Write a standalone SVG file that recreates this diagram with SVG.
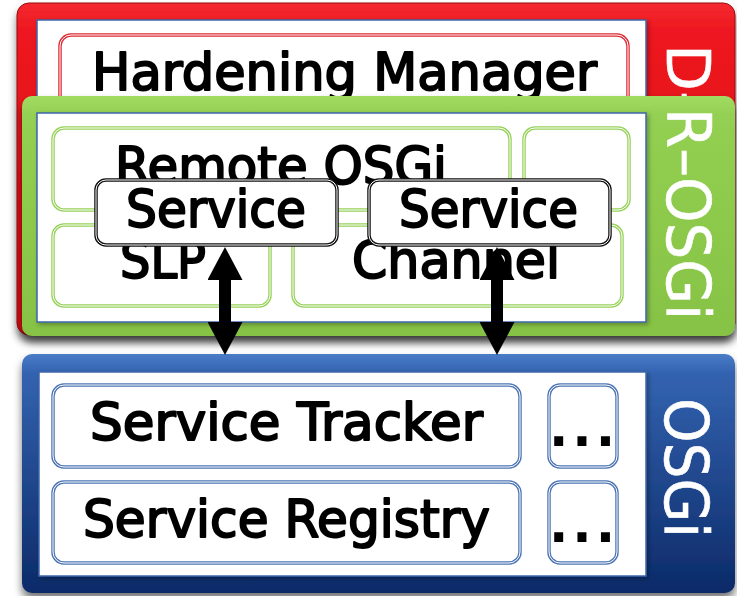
<svg xmlns="http://www.w3.org/2000/svg" width="737" height="596" viewBox="0 0 737 596">
  <style>
    .lbl { font-family: "DejaVu Sans", "Liberation Sans", sans-serif; font-size: 51px; fill: #000; stroke: #000; stroke-width: 2px; stroke-linejoin: round; }
    .dots { font-family: "DejaVu Sans", "Liberation Sans", sans-serif; font-size: 51px; font-weight: bold; fill: #000; }
    .side { font-family: "DejaVu Sans", "Liberation Sans", sans-serif; font-size: 61px; fill: #fff; stroke: #fff; stroke-width: 0.6px; }
    .inner { fill: #fff; stroke: #3d66ab; stroke-width: 1.5; }
    .box-red { fill: #fff; stroke: #de2a33; stroke-width: 3.5; }
    .box-green { fill: #fff; stroke: #96d25a; stroke-width: 3.5; }
    .box-blue { fill: #fff; stroke: #4c74b4; stroke-width: 3.5; }
    .box-black { fill: #fff; stroke: #111; stroke-width: 3.5; }
    .gap { fill: none; stroke: #fff; stroke-width: 1; }
    .arrow { stroke: #000; stroke-width: 12; fill: none; }
  </style>
  <defs>
    <linearGradient id="gRed" x1="0" y1="0" x2="0" y2="1">
      <stop offset="0" stop-color="#f42a30"/>
      <stop offset="0.08" stop-color="#ee1820"/>
      <stop offset="1" stop-color="#d40a12"/>
    </linearGradient>
    <linearGradient id="gGreen" x1="0" y1="0" x2="0" y2="1">
      <stop offset="0" stop-color="#a2dc62"/>
      <stop offset="0.08" stop-color="#93d052"/>
      <stop offset="1" stop-color="#86c244"/>
    </linearGradient>
    <linearGradient id="gBlue" x1="0" y1="0" x2="0" y2="1">
      <stop offset="0" stop-color="#4a7cc8"/>
      <stop offset="0.08" stop-color="#3363b0"/>
      <stop offset="1" stop-color="#0c2a68"/>
    </linearGradient>
    <filter id="drop" x="-5%" y="-5%" width="110%" height="120%">
      <feDropShadow dx="0" dy="6" stdDeviation="4" flood-color="#000" flood-opacity="0.55"/>
    </filter>
    <filter id="soft" x="-5%" y="-5%" width="110%" height="110%">
      <feDropShadow dx="2" dy="2" stdDeviation="2" flood-color="#000" flood-opacity="0.3"/>
    </filter>
    <marker id="head" viewBox="0 0 33 35" refX="0" refY="17.5" markerWidth="33" markerHeight="35" markerUnits="userSpaceOnUse" orient="auto-start-reverse">
      <path d="M0,0 L33,17.5 L0,35 Z" fill="#000"/>
    </marker>
  </defs>

  <rect width="737" height="596" fill="#fff"/>

  <!-- D-R-OSGi hardening layer -->
  <g id="layer-dr">
    <rect x="17" y="3" width="718" height="332" rx="12" fill="url(#gRed)" filter="url(#drop)"/>
    <rect x="17" y="3" width="718" height="332" rx="12" fill="none" stroke="#9a0a0e" stroke-width="1"/>
    <rect class="inner" x="37" y="20" width="609" height="300" filter="url(#soft)"/>
    <text class="side" transform="translate(667,44) rotate(90)">D–</text>
  </g>
  <g id="hardening-manager">
    <rect class="box-red" x="60" y="35" width="568" height="90" rx="11"/>
    <rect class="gap" x="60" y="35" width="568" height="90" rx="11"/>
    <text class="lbl" x="92" y="90" textLength="505" lengthAdjust="spacingAndGlyphs">Hardening Manager</text>
  </g>

  <!-- R-OSGi layer -->
  <g id="layer-rosgi">
    <rect x="22" y="96" width="713" height="240" rx="10" fill="url(#gGreen)" filter="url(#drop)"/>
    <rect class="inner" x="37" y="113" width="609" height="209" filter="url(#soft)"/>
    <text class="side" transform="translate(667,108) rotate(90)" textLength="212" lengthAdjust="spacingAndGlyphs">R–OSGi</text>
  </g>
  <g id="remote-osgi">
    <rect class="box-green" x="53" y="128" width="457" height="82" rx="11"/>
    <rect class="gap" x="53" y="128" width="457" height="82" rx="11"/>
    <text class="lbl" x="115" y="184" textLength="332" lengthAdjust="spacingAndGlyphs">Remote OSGi</text>
  </g>
  <g id="extra-rosgi">
    <rect class="box-green" x="524" y="128" width="105" height="82" rx="11"/>
    <rect class="gap" x="524" y="128" width="105" height="82" rx="11"/>
  </g>
  <g id="slp">
    <rect class="box-green" x="53" y="225" width="217" height="81" rx="11"/>
    <rect class="gap" x="53" y="225" width="217" height="81" rx="11"/>
    <text class="lbl" x="120" y="278" textLength="86" lengthAdjust="spacingAndGlyphs">SLP</text>
  </g>
  <g id="channel">
    <rect class="box-green" x="293" y="225" width="329" height="81" rx="11"/>
    <rect class="gap" x="293" y="225" width="329" height="81" rx="11"/>
    <text class="lbl" x="352" y="278" textLength="208" lengthAdjust="spacingAndGlyphs">Channel</text>
  </g>
  <g id="service-slp">
    <rect class="box-black" x="96" y="180" width="241" height="65" rx="10"/>
    <rect class="gap" x="96" y="180" width="241" height="65" rx="10"/>
    <text class="lbl" x="126" y="227" textLength="180" lengthAdjust="spacingAndGlyphs">Service</text>
  </g>
  <g id="service-channel">
    <rect class="box-black" x="369" y="180" width="241" height="65" rx="10"/>
    <rect class="gap" x="369" y="180" width="241" height="65" rx="10"/>
    <text class="lbl" x="399" y="227" textLength="179" lengthAdjust="spacingAndGlyphs">Service</text>
  </g>

  <!-- OSGi framework layer -->
  <g id="layer-osgi">
    <rect x="22" y="354" width="713" height="239" rx="10" fill="url(#gBlue)" filter="url(#drop)"/>
    <rect class="inner" x="39" y="372" width="607" height="204" filter="url(#soft)"/>
    <text class="side" transform="translate(665,398) rotate(90)" textLength="140" lengthAdjust="spacingAndGlyphs">OSGi</text>
  </g>
  <g id="service-tracker">
    <rect class="box-blue" x="53" y="385" width="467" height="82" rx="11"/>
    <rect class="gap" x="53" y="385" width="467" height="82" rx="11"/>
    <text class="lbl" x="90" y="440" textLength="393" lengthAdjust="spacingAndGlyphs">Service Tracker</text>
  </g>
  <g id="service-registry">
    <rect class="box-blue" x="53" y="482" width="467" height="81" rx="11"/>
    <rect class="gap" x="53" y="482" width="467" height="81" rx="11"/>
    <text class="lbl" x="83" y="537" textLength="407" lengthAdjust="spacingAndGlyphs">Service Registry</text>
  </g>
  <g id="more-1">
    <rect class="box-blue" x="549" y="385" width="68" height="82" rx="11"/>
    <rect class="gap" x="549" y="385" width="68" height="82" rx="11"/>
    <text class="dots" x="549" y="446" textLength="66">...</text>
  </g>
  <g id="more-2">
    <rect class="box-blue" x="549" y="482" width="68" height="81" rx="11"/>
    <rect class="gap" x="549" y="482" width="68" height="81" rx="11"/>
    <text class="dots" x="549" y="542" textLength="66">...</text>
  </g>

  <!-- connectors between remote services and the framework -->
  <g id="connectors">
    <line class="arrow" x1="225" y1="280" x2="225" y2="322" marker-start="url(#head)" marker-end="url(#head)"/>
    <line class="arrow" x1="497" y1="280" x2="497" y2="322" marker-start="url(#head)" marker-end="url(#head)"/>
  </g>
</svg>
